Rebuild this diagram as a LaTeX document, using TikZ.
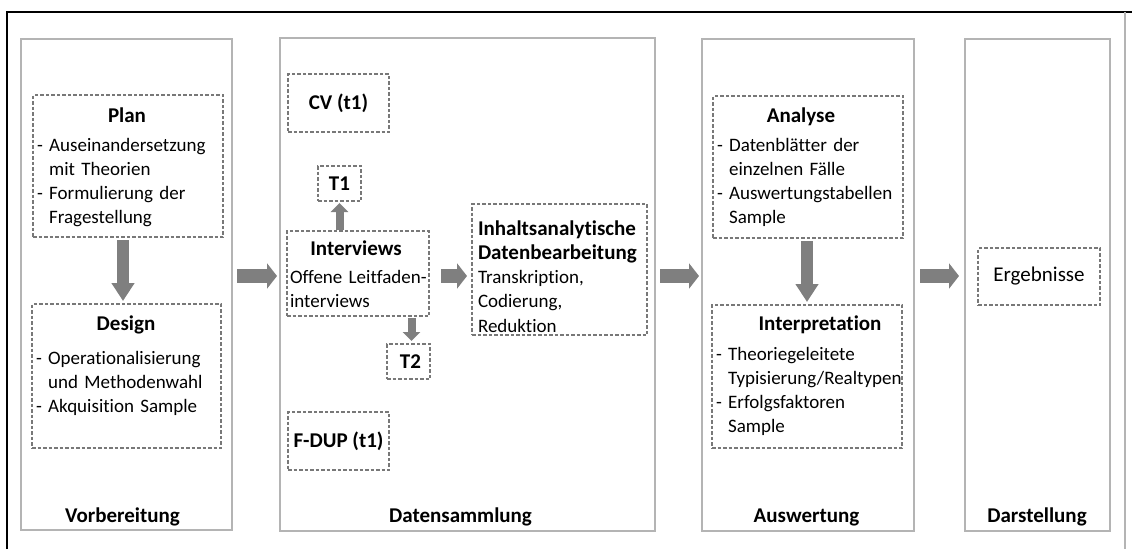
\documentclass[tikz,border=0pt]{standalone}
\usepackage{fontspec}
\setmainfont{Carlito}[Ligatures=NoCommon]
\usetikzlibrary{arrows.meta}
\definecolor{arrgray}{HTML}{7F7F7F}
\definecolor{dashgray}{HTML}{787878}
\definecolor{panelgray}{HTML}{B4B4B4}
\tikzset{
  panel/.style={draw=panelgray, line width=1.1pt, inner sep=0pt, outer sep=0pt, anchor=north west},
  dbox/.style={draw=dashgray, line width=1.6pt, dash pattern=on 3.5pt off 2pt, inner sep=0pt, outer sep=0pt, anchor=north west},
  txt/.style={inner sep=0pt, outer sep=0pt, font=\fontsize{19}{24.3}\selectfont},
  btxt/.style={txt, font=\fontsize{21}{25}\selectfont\bfseries},
  lst/.style={txt, text width=200pt, align=left, anchor=base west},
  harrow/.style={draw=arrgray, line width=14pt, -{Triangle[width=25pt,length=10pt]}},
  varrow/.style={draw=arrgray, line width=12pt, -{Triangle[width=22pt,length=18pt]}},
  sarrow/.style={draw=arrgray, line width=8pt, -{Triangle[width=17pt,length=9pt]}},
}
\newcommand{\ind}{\phantom{- }}
\newcommand{\bt}[1]{{\fontsize{21}{25}\selectfont\bfseries #1}}
\begin{document}
\begin{tikzpicture}[x=1pt,y=-1pt]
\useasboundingbox (0,0) rectangle (1132,549);
% outer frame
\draw[black, line width=1.6pt] (7,549) -- (7,12) -- (1132,12);
\draw[panelgray, line width=1.2pt] (1125,12) -- (1125,549);
% panels
\node[panel, minimum width=211pt, minimum height=491pt] (p1) at (21,39) {};
\node[panel, minimum width=375pt, minimum height=493pt] (p2) at (280,38) {};
\node[panel, minimum width=212pt, minimum height=492pt] (p3) at (702,39) {};
\node[panel, minimum width=145pt, minimum height=492pt] (p4) at (965,39) {};
\coordinate (row) at (0,276);
% panel labels
\node[btxt, anchor=base] (l1) at (122.5,522) {Vorbereitung};
\node[btxt, anchor=base] (l2) at (460.5,522) {Datensammlung};
\node[btxt, anchor=base] (l3) at (806.5,522) {Auswertung};
\node[btxt, anchor=base] (l4) at (1037,522) {Darstellung};
% Vorbereitung
\node[dbox, minimum width=190pt, minimum height=142pt] (plan) at (33,95) {};
\node[btxt, anchor=base] (plant) at (127,122) {Plan};
\node[lst] (planl) at (37,151) {- Auseinandersetzung\\\ind mit Theorien\\- Formulierung der\\\ind Fragestellung};
\node[dbox, minimum width=189pt, minimum height=144pt] (design) at (32,304) {};
\node[btxt, anchor=base] (designt) at (126,330) {Design};
\node[lst] (designl) at (36,364) {- Operationalisierung\\\ind und Methodenwahl\\- Akquisition Sample};
% Datensammlung
\node[dbox, minimum width=101pt, minimum height=58pt] (cv) at (288,74) {};
\node[btxt] (cvt) at (cv.center) {CV (t1)};
\node[dbox, minimum width=43pt, minimum height=35pt] (t1) at (318,166) {};
\node[btxt] (t1t) at (t1.center) {T1};
\node[dbox, minimum width=142pt, minimum height=85pt] (interviews) at (287,231) {};
\node[btxt, anchor=base] (intt) at (356,255) {Interviews};
\node[lst] (intl) at (290,283) {Offene Leitfaden-\\interviews};
\node[dbox, minimum width=43pt, minimum height=35pt] (t2) at (387,344) {};
\node[btxt] (t2t) at ([xshift=2pt]t2.center) {T2};
\node[dbox, minimum width=101pt, minimum height=58pt] (fdup) at (288,412) {};
\node[btxt] (fdupt) at (fdup.center) {F-DUP (t1)};
\node[dbox, minimum width=175pt, minimum height=131pt] (inhalt) at (472,204) {};
\node[lst] (inhaltl) at (478,235) {\bt{Inhaltsanalytische}\\\bt{Datenbearbeitung}\\Transkription,\\Codierung,\\Reduktion};
% Auswertung
\node[dbox, minimum width=190pt, minimum height=142pt] (analyse) at (713,96) {};
\node[btxt, anchor=base] (analyset) at (801,122) {Analyse};
\node[lst] (analysel) at (717,151) {- Datenblätter der\\\ind einzelnen Fälle\\- Auswertungstabellen\\\ind Sample};
\node[dbox, minimum width=190pt, minimum height=143pt] (interp) at (712,305) {};
\node[btxt, anchor=base] (interpt) at (820,330) {Interpretation};
\node[lst] (interpl) at (716,360) {- Theoriegeleitete\\\ind Typisierung/Realtypen\\- Erfolgsfaktoren\\\ind Sample};
% Darstellung
\node[dbox, minimum width=122pt, minimum height=57pt] (erg) at (978,248) {};
\node[txt, font=\fontsize{21}{25}\selectfont] (ergt) at (erg.center) {Ergebnisse};
% arrows
\draw[varrow, shorten <=3pt, shorten >=3pt] ([xshift=-5pt]plan.south) -- ([xshift=-5pt]plan.south |- design.north);
\draw[varrow, shorten <=3pt, shorten >=3pt] ([xshift=-1pt]analyse.south) -- ([xshift=-1pt]analyse.south |- interp.north);
\draw[sarrow, shorten <=1pt, shorten >=2pt] (interviews.north -| t1.south) -- (t1.south);
\draw[sarrow, shorten <=2pt, shorten >=3pt] ([xshift=3pt]t2.north |- interviews.south) -- ([xshift=3pt]t2.north);
\draw[harrow, shorten <=5pt, shorten >=3pt] (p1.east |- row) -- (p2.west |- row);
\draw[harrow, shorten <=12pt, shorten >=5pt] (interviews.east |- row) -- (inhalt.west |- row);
\draw[harrow, shorten <=5pt, shorten >=3pt] (p2.east |- row) -- (p3.west |- row);
\draw[harrow, shorten <=6pt, shorten >=6pt] (p3.east |- row) -- (p4.west |- row);
\end{tikzpicture}
\end{document}
